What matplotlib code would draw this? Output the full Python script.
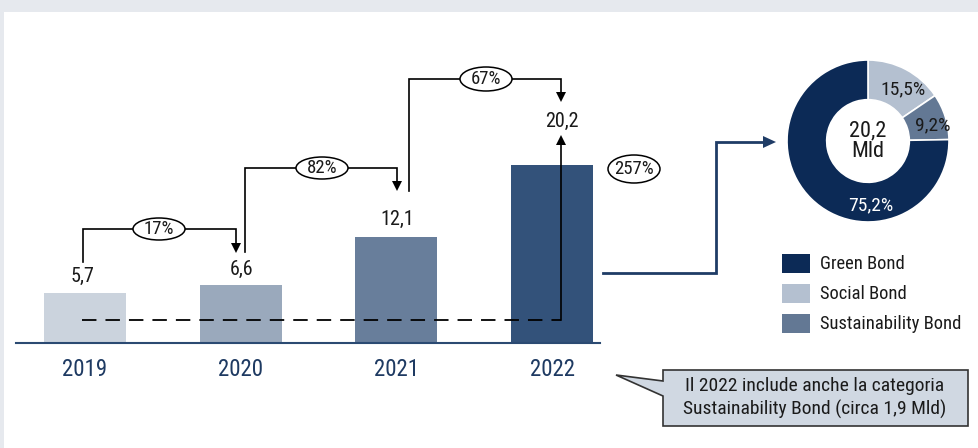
import matplotlib
matplotlib.use("Agg")
import os
import matplotlib.pyplot as plt
from matplotlib.patches import Rectangle, Ellipse, Polygon
from matplotlib import font_manager
from matplotlib.font_manager import FontProperties

# ---------------- data ----------------
years = ["2019", "2020", "2021", "2022"]
values = [5.7, 6.6, 12.1, 20.2]
value_labels = ["5,7", "6,6", "12,1", "20,2"]
growth_labels = ["17%", "82%", "67%"]
total_growth_label = "257%"
bar_colors = ["#cbd3dd", "#9aa9bc", "#687e9b", "#33527a"]

donut_categories = ["Social Bond", "Sustainability Bond", "Green Bond"]
donut_shares = [15.5, 9.2, 75.2]
donut_labels = ["15,5%", "9,2%", "75,2%"]
donut_colors = ["#b4c0d0", "#637894", "#0c2a56"]
legend_order = ["Green Bond", "Social Bond", "Sustainability Bond"]
center_label = "20,2\nMld"
note_text = "Il 2022 include anche la categoria\nSustainability Bond (circa 1,9 Mld)"

# ---------------- fonts ----------------
prefs = ["LiberationSansNarrow-Regular", "RobotoCondensed-Regular", "RobotoCondensed-Light",
         "DejaVuSansCondensed.ttf", "OpenSans_Condensed-Regular", "OpenSansCondensed"]
files = [f.fname for f in font_manager.fontManager.ttflist]
chosen = None
for p in prefs:
    for fn in files:
        if p.lower() in os.path.basename(fn).lower():
            chosen = fn
            break
    if chosen:
        break
if chosen is None:
    import glob
    for pat in ["/usr/share/fonts/**/*Condensed*.ttf", "/usr/share/fonts/**/*Narrow*.ttf"]:
        g = [x for x in glob.glob(pat, recursive=True) if "Bold" not in x and "Oblique" not in x and "Italic" not in x]
        if g:
            chosen = sorted(g)[0]
            break

def fp(size):
    if chosen:
        return FontProperties(fname=chosen, size=size)
    return FontProperties(family=["Liberation Sans", "DejaVu Sans"], size=size * 0.9)

W, H = 979, 448
fig = plt.figure(figsize=(W / 100, H / 100), dpi=100)
fig.patch.set_facecolor("#e6e9ee")

# pixel -> data mapping for bar axes
PX0, PXS = 85.0, 155.7
PY0, PYS = 343.0, 8.8

ov = fig.add_axes([0, 0, 1, 1], zorder=0)
ov.set_xlim(0, W); ov.set_ylim(H, 0); ov.axis("off")
ov.add_patch(Rectangle((4, 12), W - 4, H - 12, facecolor="white", edgecolor="none"))

ax = fig.add_axes([0, 0, 1, 1], zorder=1)
ax.set_xlim((0 - PX0) / PXS, (W - PX0) / PXS)
ax.set_ylim((PY0 - H) / PYS, PY0 / PYS)
ax.axis("off")
ax.patch.set_alpha(0)

xs = list(range(len(years)))
ax.bar(xs, values, width=82 / PXS, color=bar_colors, zorder=2)

top = fig.add_axes([0, 0, 1, 1], zorder=2)
top.set_xlim(0, W); top.set_ylim(H, 0); top.axis("off")
top.patch.set_alpha(0)

top.plot([16, 600], [343, 343], color="#2b4a72", lw=1.5)

for i, y in enumerate(years):
    top.text(PX0 + PXS * i, 369, y, ha="center", va="center", fontproperties=fp(16.5), color="#1e3a62")

val_pos = [(83, 276), (242, 269), (397, 219), (562, 121)]
for (px, py), lab in zip(val_pos, value_labels):
    top.text(px, py, lab, ha="center", va="center", fontproperties=fp(14.5), color="#1a1a1a")

def bracket(x0, y0, ytop, x1, y1, label, cx, ew=52, eh=24):
    top.plot([x0, x0, x1, x1], [y0, ytop, ytop, y1 - 8], color="black", lw=1.2, solid_joinstyle="miter")
    top.add_patch(Polygon([[x1 - 5, y1 - 10], [x1 + 5, y1 - 10], [x1, y1]], closed=True,
                          facecolor="black", edgecolor="none"))
    top.add_patch(Ellipse((cx, ytop), ew, eh, facecolor="white", edgecolor="black", lw=1.1, zorder=3))
    top.text(cx, ytop, label, ha="center", va="center", fontproperties=fp(13.5), color="#1a1a1a", zorder=4)

bracket(83, 262, 229, 236, 253, growth_labels[0], 159, 52, 22)
bracket(245, 252, 168, 397, 191, growth_labels[1], 322, 52, 22)
bracket(409, 191, 79, 561, 102, growth_labels[2], 486, 52, 24)

top.plot([82, 561], [320, 320], color="black", lw=1.3, dashes=(8, 5))
top.plot([561, 561], [320, 145], color="black", lw=1.2)
top.add_patch(Polygon([[556, 145], [566, 145], [561, 135]], closed=True, facecolor="black", edgecolor="none"))
top.add_patch(Ellipse((634, 169), 52, 28, facecolor="white", edgecolor="black", lw=1.1))
top.text(634, 169, total_growth_label, ha="center", va="center", fontproperties=fp(13.5), color="#1a1a1a")

top.plot([603, 716, 716, 764], [273, 273, 142, 142], color="#1f3c66", lw=2, solid_joinstyle="miter")
top.add_patch(Polygon([[763, 136], [763, 148], [776, 142]], closed=True, facecolor="#1f3c66", edgecolor="none"))

top.add_patch(Polygon([[663, 370], [968, 370], [968, 426], [663, 426], [663, 396], [616, 375], [663, 381]],
                      closed=True, facecolor="#d0d8e2", edgecolor="#333333", lw=1.2))
top.text(815, 398, note_text, ha="center", va="center", fontproperties=fp(14), color="#1a1a1a", linespacing=1.3)

leg_y = [264, 294, 324]
for lab, y in zip(legend_order, leg_y):
    c = donut_colors[donut_categories.index(lab)]
    top.add_patch(Rectangle((782, y - 9.5), 28, 19, facecolor=c, edgecolor="none"))
    top.text(820, y, lab, ha="left", va="center", fontproperties=fp(13.3), color="#1a1a1a")

cx, cy, r = 868, 141, 81
pax = fig.add_axes([(cx - r) / W, (H - cy - r) / H, 2 * r / W, 2 * r / H], zorder=3)
pax.pie(donut_shares, colors=donut_colors, startangle=90, counterclock=False, radius=1,
        wedgeprops=dict(width=0.49, edgecolor="white", linewidth=1.2))
pax.set_xlim(-1, 1); pax.set_ylim(-1, 1)
pax.axis("off")
pax.text(0, 0, center_label, ha="center", va="center", fontproperties=fp(16), color="#1a1a1a", linespacing=0.95)
lab_pos = [(0.43, 0.64), (0.80, 0.19), (0.03, -0.79)]
lab_cols = ["#1a1a1a", "#1a1a1a", "white"]
for (lx, ly), t, c in zip(lab_pos, donut_labels, lab_cols):
    pax.text(lx, ly, t, ha="center", va="center", fontproperties=fp(14), color=c)

fig.savefig("out.png", dpi=100, facecolor=fig.get_facecolor())
